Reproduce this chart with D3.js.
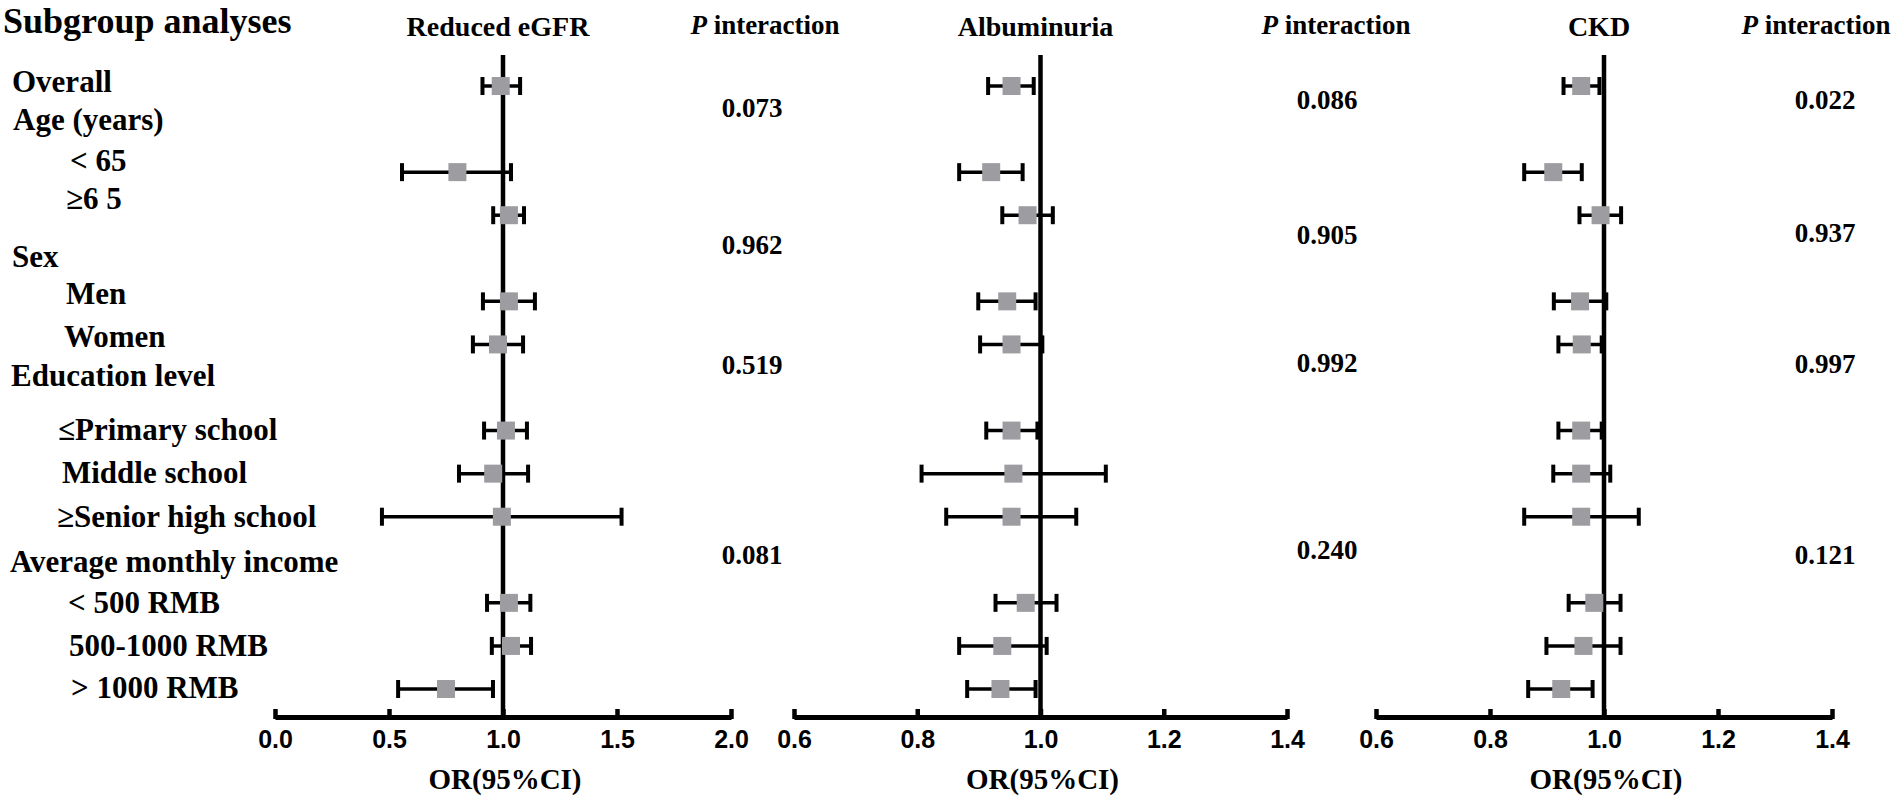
<!DOCTYPE html>
<html>
<head>
<meta charset="utf-8">
<script src="https://cdn.jsdelivr.net/npm/d3@7/dist/d3.min.js"></script>
<style>
  html, body { margin: 0; padding: 0; background: #fff; }
  svg { display: block; }
  .serif { font-family: "Liberation Serif", "Times New Roman", serif; font-weight: bold; fill: #000; }
  .tick text { font-family: "Liberation Sans", Arial, sans-serif; font-weight: bold; font-size: 25px; fill: #000; }
</style>
</head>
<body>
<svg id="chart" width="1901" height="805"></svg>
<script>
// ---------------- DATA ----------------
const categories = [
  "Overall", "Age (years)", "< 65", "\u22656 5", "Sex", "Men", "Women",
  "Education level", "\u2264Primary school", "Middle school", "\u2265Senior high school",
  "Average monthly income", "< 500 RMB", "500-1000 RMB", "> 1000 RMB"
];

const panelTitles = ["Reduced eGFR", "Albuminuria", "CKD"];

// Reduced eGFR
const egfrOR = [0.99, null, 0.80, 1.026, null, 1.026, 0.978, null, 1.013, 0.957, 0.995, null, 1.026, 1.035, 0.75];
const egfrLo = [0.91, null, 0.557, 0.957, null, 0.912, 0.868, null, 0.917, 0.807, 0.469, null, 0.93, 0.951, 0.54];
const egfrHi = [1.075, null, 1.035, 1.092, null, 1.14, 1.088, null, 1.105, 1.11, 1.52, null, 1.12, 1.123, 0.956];

// Albuminuria
const albOR = [0.953, null, 0.920, 0.979, null, 0.946, 0.953, null, 0.953, 0.956, 0.953, null, 0.976, 0.938, 0.935];
const albLo = [0.915, null, 0.868, 0.938, null, 0.899, 0.902, null, 0.912, 0.807, 0.847, null, 0.927, 0.868, 0.881];
const albHi = [0.989, null, 0.971, 1.020, null, 0.992, 1.003, null, 0.995, 1.106, 1.058, null, 1.026, 1.010, 0.992];

// CKD
const ckdOR = [0.960, null, 0.911, 0.994, null, 0.958, 0.961, null, 0.960, 0.960, 0.960, null, 0.983, 0.964, 0.925];
const ckdLo = [0.929, null, 0.860, 0.957, null, 0.912, 0.920, null, 0.920, 0.911, 0.860, null, 0.938, 0.899, 0.867];
const ckdHi = [0.992, null, 0.961, 1.030, null, 1.004, 0.996, null, 0.996, 1.011, 1.061, null, 1.029, 1.029, 0.980];

// P interaction values
const egfrP = ["0.073", "0.962", "0.519", "0.081"];
const albP  = ["0.086", "0.905", "0.992", "0.240"];
const ckdP  = ["0.022", "0.937", "0.997", "0.121"];

// axis ticks
const egfrTicks = [0.0, 0.5, 1.0, 1.5, 2.0];
const albTicks  = [0.6, 0.8, 1.0, 1.2, 1.4];
const ckdTicks  = [0.6, 0.8, 1.0, 1.2, 1.4];
const egfrDomain = [0, 2];
const albDomain  = [0.6, 1.4];
const ckdDomain  = [0.6, 1.4];

// ---------------- LAYOUT ----------------
const svg = d3.select("#chart");
const W = 1901, H = 805;
svg.append("rect").attr("width", W).attr("height", H).attr("fill", "#fff");

const axisY = 717;
const lineTop = 55;
const y = d3.scaleLinear().domain([0, categories.length - 1]).range([86, 689]);

// label placement tweaks
const labelShift = [-4, -9, -11, -16, -2, -8, -8, -12, -1, -1, 0, 2, 0, 0, -1];
const labelX = [12, 13, 70, 66, 12, 66, 64, 11, 58, 62, 57, 10, 68, 69, 71];

// Title
svg.append("text").attr("class", "serif")
  .attr("x", 3).attr("y", 21).attr("dy", "0.33em")
  .style("font-size", "36px")
  .text("Subgroup analyses");

// Row labels
svg.append("g").selectAll("text").data(categories).join("text")
  .attr("class", "serif")
  .attr("x", (d, i) => labelX[i])
  .attr("y", (d, i) => y(i) + labelShift[i])
  .attr("dy", "0.33em")
  .style("font-size", "31px")
  .text(d => d);

const panels = [
  { title: panelTitles[0], or: egfrOR, lo: egfrLo, hi: egfrHi, p: egfrP, ticks: egfrTicks, domain: egfrDomain,
    range: [275, 731], pX: 752, pY: [108, 245, 365, 555], pHeadX: 765 },
  { title: panelTitles[1], or: albOR, lo: albLo, hi: albHi, p: albP, ticks: albTicks, domain: albDomain,
    range: [794, 1287], pX: 1327, pY: [100, 235, 363, 550], pHeadX: 1336 },
  { title: panelTitles[2], or: ckdOR, lo: ckdLo, hi: ckdHi, p: ckdP, ticks: ckdTicks, domain: ckdDomain,
    range: [1376, 1832], pX: 1825, pY: [100, 233, 364, 555], pHeadX: 1816 }
];

const markerSize = 18;
const capH = 18;

panels.forEach(pn => {
  const x = d3.scaleLinear().domain(pn.domain).range(pn.range);
  const g = svg.append("g");

  // header
  g.append("text").attr("class", "serif")
    .attr("x", x(1) - 5).attr("y", 27).attr("dy", "0.33em")
    .attr("text-anchor", "middle")
    .style("font-size", "28px")
    .text(pn.title);

  // P interaction header
  const ph = g.append("text").attr("class", "serif")
    .attr("x", pn.pHeadX).attr("y", 25).attr("dy", "0.33em")
    .attr("text-anchor", "middle")
    .style("font-size", "27px");
  ph.append("tspan").style("font-style", "italic").text("P");
  ph.append("tspan").text(" interaction");

  // P values
  g.selectAll("text.pv").data(pn.p).join("text")
    .attr("class", "serif pv")
    .attr("x", pn.pX).attr("y", (d, i) => pn.pY[i]).attr("dy", "0.35em")
    .attr("text-anchor", "middle")
    .style("font-size", "27px")
    .text(d => d);

  // x axis
  const axis = d3.axisBottom(x)
    .tickValues(pn.ticks)
    .tickFormat(d3.format(".1f"))
    .tickSizeInner(-8)
    .tickSizeOuter(0)
    .tickPadding(13);
  const ax = g.append("g").attr("transform", `translate(0,${axisY})`).call(axis);
  ax.select(".domain").attr("stroke", "#000").attr("stroke-width", 5);
  ax.selectAll(".tick line").attr("stroke", "#000").attr("stroke-width", 4.5).attr("y1", 2);
  ax.selectAll(".tick text").attr("dy", "0.71em");

  // axis title
  g.append("text").attr("class", "serif")
    .attr("x", x(1) + 2).attr("y", 779).attr("dy", "0.33em")
    .attr("text-anchor", "middle")
    .style("font-size", "29px")
    .text("OR(95%CI)");

  // reference line at OR = 1
  g.append("line")
    .attr("x1", x(1)).attr("x2", x(1))
    .attr("y1", lineTop).attr("y2", axisY)
    .attr("stroke", "#000").attr("stroke-width", 4.5);

  const rows = categories.map((c, i) => ({ i, or: pn.or[i], lo: pn.lo[i], hi: pn.hi[i] }))
    .filter(d => d.or != null);

  // CI lines
  g.selectAll("line.ci").data(rows).join("line")
    .attr("class", "ci")
    .attr("x1", d => x(d.lo)).attr("x2", d => x(d.hi))
    .attr("y1", d => y(d.i)).attr("y2", d => y(d.i))
    .attr("stroke", "#000").attr("stroke-width", 3.5);
  // caps
  ["lo", "hi"].forEach(k => {
    g.selectAll("line.cap" + k).data(rows).join("line")
      .attr("class", "cap" + k)
      .attr("x1", d => x(d[k])).attr("x2", d => x(d[k]))
      .attr("y1", d => y(d.i) - capH / 2).attr("y2", d => y(d.i) + capH / 2)
      .attr("stroke", "#000").attr("stroke-width", 4);
  });
  // markers
  g.selectAll("rect.mk").data(rows).join("rect")
    .attr("class", "mk")
    .attr("x", d => x(d.or) - markerSize / 2)
    .attr("y", d => y(d.i) - markerSize / 2)
    .attr("width", markerSize).attr("height", markerSize)
    .attr("fill", "#9d9da1");
});
</script>
</body>
</html>
